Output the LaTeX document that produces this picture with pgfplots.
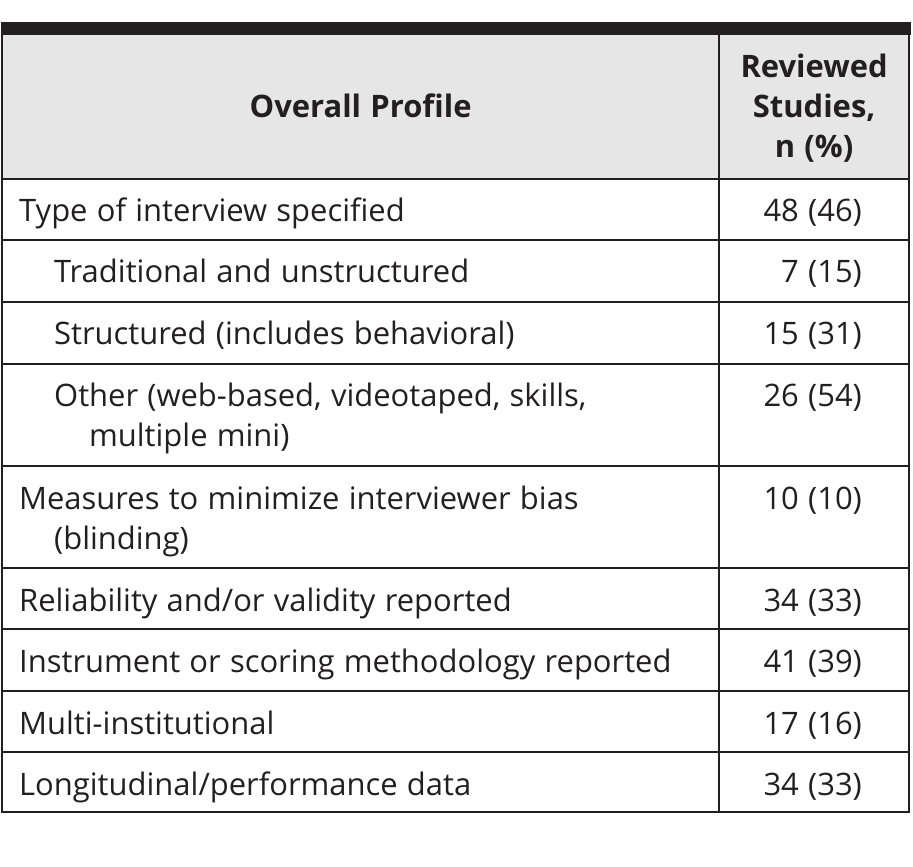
\documentclass[border=0pt]{standalone}
\usepackage{pgfplots}
\usepackage{pgfplotstable}
\usepackage{fontspec}
\setmainfont[WordSpace=1.15]{Open Sans}
\pgfplotsset{compat=1.18}
\definecolor{ink}{HTML}{231F20}
\definecolor{headgray}{HTML}{E6E6E6}
\newcommand{\tf}{\fontsize{31.1}{40}\selectfont}
\pgfplotstableread[col sep=comma]{
y,label
222,48 (46)
283,7 (15)
345,15 (31)
407,26 (54)
510,10 (10)
612,34 (33)
673,41 (39)
735,17 (16)
796,34 (33)
}\valtable
\begin{document}
\begin{tikzpicture}
\begin{axis}[
  width=913bp, height=867bp, scale only axis,
  xmin=0, xmax=913, ymin=0, ymax=867, y dir=reverse,
  hide axis, clip=false,
]
\path (axis cs:0,0) rectangle (axis cs:913,867);
% header background
\fill[headgray] (axis cs:1,35) rectangle (axis cs:909,179);
% top thick bar
\fill[ink] (axis cs:0,22) rectangle (axis cs:911,35);
% outer borders and column divider
\draw[ink, line width=2bp] (axis cs:1,35) -- (axis cs:1,813);
\draw[ink, line width=2bp] (axis cs:909,35) -- (axis cs:909,813);
\draw[ink, line width=2bp] (axis cs:719,35) -- (axis cs:719,813);
% row lines
\pgfplotsinvokeforeach{179,240,302,364,467,569,630,692,753,813}{
  \draw[ink, line width=2bp] (axis cs:0,#1) -- (axis cs:910,#1);
}
% header text
\node[font=\tf\bfseries, text=ink, anchor=base, inner sep=0] at (axis cs:360,118) {Overall Profile};
\node[font=\tf\bfseries, text=ink, anchor=base, inner sep=0] at (axis cs:814,78) {Reviewed};
\node[font=\tf\bfseries, text=ink, anchor=base, inner sep=0] at (axis cs:814,118) {Studies,};
\node[font=\tf\bfseries, text=ink, anchor=base, inner sep=0] at (axis cs:814,158) {n (\%)};
% row labels
\begin{scope}[every node/.style={font=\tf, text=ink, anchor=base west, inner sep=0}]
\node at (axis cs:18,222) {Type of interview specified};
\node at (axis cs:53,283) {Traditional and unstructured};
\node at (axis cs:53,345) {Structured (includes behavioral)};
\node at (axis cs:53,407) {Other (web-based, videotaped, skills,};
\node at (axis cs:88,447) {multiple mini)};
\node at (axis cs:18,510) {Measures to minimize interviewer bias};
\node at (axis cs:53,550) {(blinding)};
\node at (axis cs:18,612) {Reliability and/or validity reported};
\node at (axis cs:18,673) {Instrument or scoring methodology reported};
\node at (axis cs:18,735) {Multi-institutional};
\node at (axis cs:18,796) {Longitudinal/performance data};
\end{scope}
% values
\addplot[draw=none, mark=none, nodes near coords, point meta=explicit symbolic,
  nodes near coords style={font=\tf, text=ink, anchor=base east, inner sep=0}]
  table[x expr=862, y=y, meta=label] {\valtable};
\end{axis}
\end{tikzpicture}
\end{document}
